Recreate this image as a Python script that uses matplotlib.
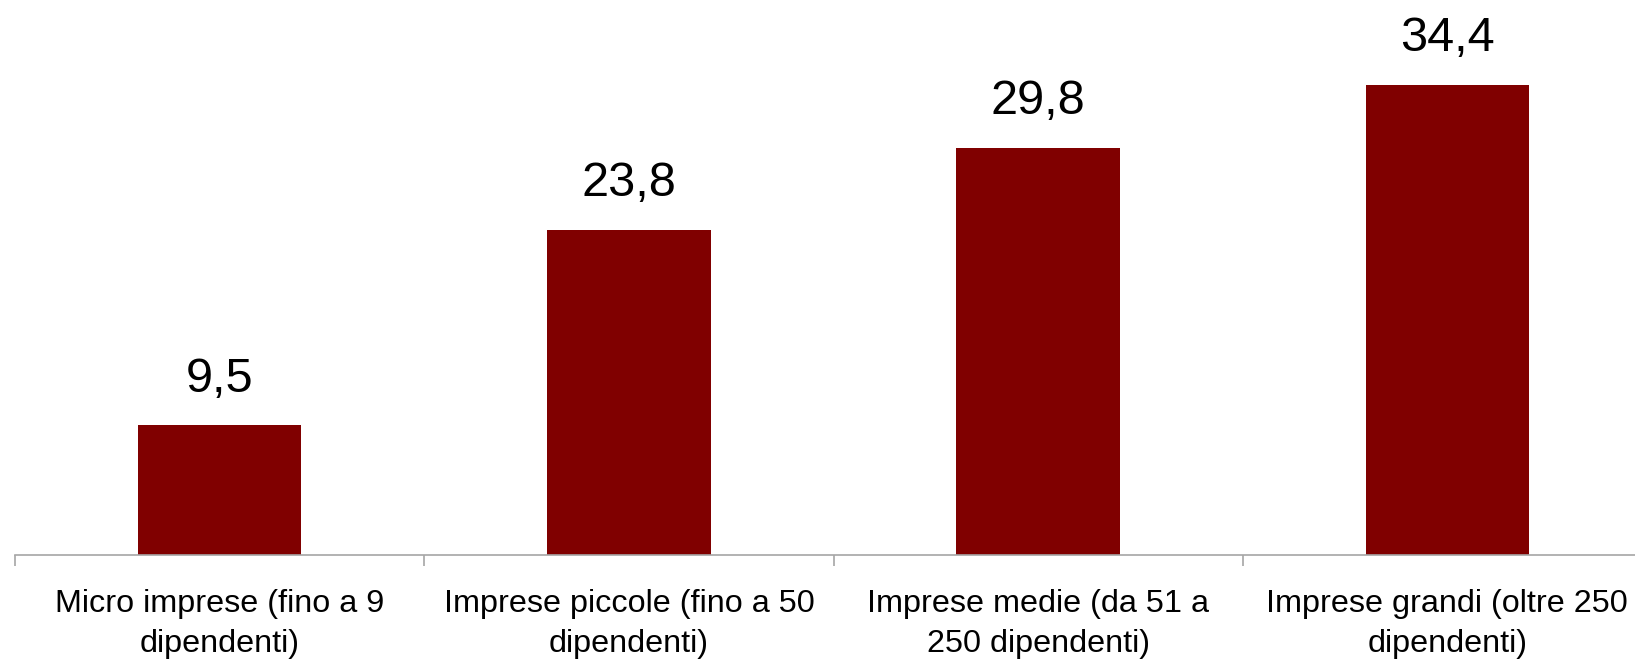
import matplotlib
matplotlib.use("Agg")
import matplotlib.pyplot as plt
import numpy as np

plt.rcParams["font.family"] = ["Liberation Sans", "DejaVu Sans"]

CATEGORIES = [
    "Micro imprese (fino a 9\ndipendenti)",
    "Imprese piccole (fino a 50\ndipendenti)",
    "Imprese medie (da 51 a\n250 dipendenti)",
    "Imprese grandi (oltre 250\ndipendenti)",
]
VALUES = [9.5, 23.8, 29.8, 34.4]
VALUE_LABELS = ["9,5", "23,8", "29,8", "34,4"]

BAR_COLOR = "#800000"
AXIS_COLOR = "#A6A6A6"

fig = plt.figure(figsize=(16.35, 6.62), dpi=100)
# axes run past the right edge of the canvas, as in the original export
ax = fig.add_axes([15 / 1635, 107.3 / 662, 1637 / 1635, 554.7 / 662])

x = np.arange(len(CATEGORIES))
bars = ax.bar(x, VALUES, width=0.4, color=BAR_COLOR)
for bar, label in zip(bars, VALUE_LABELS):
    ax.annotate(label, (bar.get_x() + bar.get_width() / 2, bar.get_height()),
                xytext=(0, 24), textcoords="offset points",
                ha="center", va="baseline", fontsize=35)

ax.set_xlim(-0.5, len(CATEGORIES) - 0.5)
ax.set_ylim(0, 40.6)

ax.set_xticks(x)
ax.set_xticklabels(CATEGORIES, fontsize=23.3, linespacing=1.42)
ax.set_xticks(np.arange(len(CATEGORIES) + 1) - 0.5, minor=True)
ax.tick_params(axis="x", which="major", length=0, pad=25)
ax.tick_params(axis="x", which="minor", length=8, width=1.2, color=AXIS_COLOR, direction="out")
ax.set_yticks([])

for side in ["top", "right", "left"]:
    ax.spines[side].set_visible(False)
ax.spines["bottom"].set_color(AXIS_COLOR)
ax.spines["bottom"].set_linewidth(1.2)

fig.savefig("out.png", dpi=100)
